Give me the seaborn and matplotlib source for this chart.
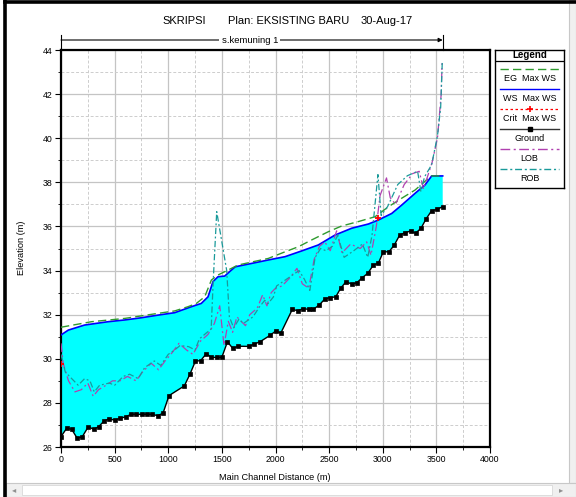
import numpy as np
import matplotlib
matplotlib.use("Agg")
import matplotlib.pyplot as plt
import matplotlib.patches as mpatches
from matplotlib.lines import Line2D
from matplotlib.ticker import MultipleLocator
import seaborn as sns

# ---------------- data ----------------
ground_x = [0, 53, 100, 152, 199, 255, 305, 351, 404, 450, 500, 553, 603, 653, 702, 752, 802, 852,
            901, 951, 1007, 1150, 1203, 1254, 1301, 1355, 1403, 1452, 1499, 1552, 1602, 1655, 1753,
            1804, 1855, 1949, 2005, 2049, 2157, 2207, 2259, 2310, 2353, 2408, 2462, 2508, 2562, 2608,
            2657, 2711, 2757, 2810, 2862, 2912, 2959, 3005, 3058, 3108, 3158, 3210, 3259, 3306, 3357,
            3404, 3455, 3506, 3559]
ground_z = [26.47, 26.85, 26.80, 26.39, 26.47, 26.92, 26.80, 26.92, 27.19, 27.27, 27.22, 27.30,
            27.37, 27.48, 27.48, 27.48, 27.48, 27.48, 27.42, 27.53, 28.33, 28.77, 29.31, 29.90,
            29.91, 30.23, 30.06, 30.06, 30.06, 30.77, 30.47, 30.57, 30.56, 30.67, 30.77, 31.06,
            31.27, 31.16, 32.24, 32.18, 32.27, 32.24, 32.24, 32.44, 32.72, 32.77, 32.81, 33.20,
            33.49, 33.39, 33.44, 33.68, 33.88, 34.25, 34.33, 34.85, 34.85, 35.16, 35.61, 35.72,
            35.79, 35.69, 35.92, 36.34, 36.71, 36.77, 36.90]

ws_x = [0, 68, 220, 438, 594, 749, 905, 1060, 1215, 1308, 1371, 1417, 1464, 1526, 1572, 1624,
        1933, 2089, 2244, 2399, 2555, 2711, 2866, 2959, 3084, 3177, 3301, 3394, 3456, 3559]
ws_z = [31.08, 31.30, 31.53, 31.68, 31.76, 31.86, 31.98, 32.09, 32.36, 32.51, 32.81, 33.50,
        33.72, 33.75, 33.95, 34.17, 34.48, 34.63, 34.89, 35.16, 35.61, 35.92, 36.11, 36.29,
        36.59, 36.97, 37.50, 37.88, 38.29, 38.29]

eg_x = [0, 283, 594, 905, 1060, 1184, 1262, 1340, 1402, 1464, 1557, 1650, 1933, 2089, 2213,
        2338, 2492, 2617, 2772, 2928, 3052, 3177, 3301, 3425, 3456, 3559]
eg_z = [31.43, 31.68, 31.83, 32.06, 32.17, 32.36, 32.51, 32.81, 33.57, 33.80, 34.02, 34.25,
        34.55, 34.85, 35.08, 35.39, 35.76, 36.02, 36.22, 36.44, 36.89, 37.28, 37.65, 38.18,
        38.29, 38.29]

crit_x = [0, 2953]
crit_z = [29.75, 36.37]

lob_x = [0, 20, 70, 130, 190, 250, 300, 350, 420, 480, 550, 620, 700, 760, 840, 910, 970, 1040,
         1100, 1170, 1230, 1300, 1370, 1430, 1480, 1520, 1560, 1600, 1640, 1720, 1760, 1830, 1880,
         1920, 1960, 2000, 2060, 2140, 2200, 2250, 2310, 2360, 2410, 2460, 2510, 2570, 2620, 2700,
         2790, 2850, 2890, 2940, 2975, 3035, 3070, 3120, 3200, 3280, 3340, 3380, 3420, 3460, 3510,
         3545, 3553]
lob_z = [30.7, 29.8, 29.0, 28.5, 28.6, 28.9, 28.3, 28.6, 28.8, 29.0, 29.0, 29.2, 29.0, 29.4,
         29.8, 29.5, 29.9, 30.3, 30.7, 30.4, 30.2, 30.8, 31.1, 31.6, 32.4, 30.6, 31.7, 31.2, 31.9,
         31.5, 32.0, 32.3, 32.9, 32.4, 33.0, 33.2, 33.3, 33.7, 34.1, 33.4, 33.2, 34.5, 35.1, 35.3,
         34.9, 35.8, 34.8, 35.2, 35.0, 35.3, 34.7, 36.0, 37.4, 38.2, 37.3, 37.0, 37.9, 38.4, 38.5,
         37.7, 38.3, 38.9, 40.0, 42.0, 43.4]

rob_x = [0, 40, 100, 160, 220, 270, 310, 360, 450, 500, 580, 640, 720, 780, 870, 930, 1000,
         1060, 1110, 1190, 1250, 1290, 1350, 1400, 1420, 1452, 1545, 1570, 1610, 1660, 1700, 1790,
         1850, 1900, 1930, 1980, 2010, 2070, 2160, 2220, 2270, 2320, 2370, 2420, 2470, 2530, 2580,
         2640, 2730, 2810, 2860, 2900, 2955, 2985, 3045, 3140, 3230, 3325, 3355, 3390, 3456, 3510,
         3540, 3555]
rob_z = [30.2, 29.4, 29.1, 28.8, 29.1, 29.0, 28.5, 28.8, 28.9, 28.8, 29.2, 29.3, 29.1, 29.6,
         29.9, 29.7, 30.2, 30.4, 30.6, 30.55, 30.4, 30.9, 31.15, 31.35, 33.6, 36.67, 34.0, 31.9,
         31.4, 31.8, 31.6, 31.9, 32.35, 32.65, 32.5, 32.8, 33.3, 33.5, 33.8, 34.0, 33.6, 33.1,
         34.6, 35.0, 34.9, 35.1, 35.6, 34.6, 34.9, 35.2, 34.6, 35.6, 38.35, 36.5, 36.9, 37.9,
         38.3, 38.5, 37.6, 38.25, 38.8, 40.1, 41.4, 43.45]

x_ticks = [0, 500, 1000, 1500, 2000, 2500, 3000, 3500, 4000]
y_ticks = [26, 28, 30, 32, 34, 36, 38, 40, 42, 44]

title_parts = ["SKRIPSI", "Plan: EKSISTING BARU", "30-Aug-17"]
reach_name = "s.kemuning 1"
legend_labels = ["EG  Max WS", "WS  Max WS", "Crit  Max WS", "Ground", "LOB", "ROB"]

# ---------------- styles ----------------
C_FILL = "#00FFFF"
C_WS = "#0000FF"
C_EG = "#2E9A2E"
C_CRIT = "#FF0000"
C_LOB = "#B040B0"
C_ROB = "#1A9A9A"
LS_EG = (0, (6, 3))
LS_LOB = (0, (7, 2.5, 1.5, 2.5))
LS_ROB = (0, (5, 2, 1.5, 2))

W, H = 576, 497
plt.rcParams['font.family'] = ['Liberation Sans', 'DejaVu Sans']

fig = plt.figure(figsize=(W / 100, H / 100), dpi=100)
fig.patch.set_facecolor("white")


def fx(px):
    return px / W


def fy(py):
    return 1 - py / H


ax = fig.add_axes([fx(61), fy(447), (490 - 61) / W, (447 - 50) / H])

# water fill between WS and ground
poly_x = np.concatenate([ws_x, ground_x[::-1]])
poly_z = np.concatenate([ws_z, ground_z[::-1]])
ax.fill(poly_x, poly_z, color=C_FILL, lw=0, zorder=2)

sns.lineplot(x=ws_x, y=ws_z, ax=ax, color=C_WS, lw=1.2, estimator=None, sort=False, zorder=4)
sns.lineplot(x=eg_x, y=eg_z, ax=ax, color=C_EG, lw=1.0, linestyle=LS_EG, estimator=None,
             sort=False, zorder=4)
sns.lineplot(x=lob_x, y=lob_z, ax=ax, color=C_LOB, lw=0.9, linestyle=LS_LOB, estimator=None,
             sort=False, zorder=5)
sns.lineplot(x=rob_x, y=rob_z, ax=ax, color=C_ROB, lw=0.9, linestyle=LS_ROB, estimator=None,
             sort=False, zorder=5)
sns.lineplot(x=ground_x, y=ground_z, ax=ax, color="black", lw=1.0, marker="s", markersize=3.3,
             markeredgecolor="black", markerfacecolor="black", markeredgewidth=0.5,
             estimator=None, sort=False, zorder=6)
ax.plot(crit_x, crit_z, linestyle="none", marker="+", color=C_CRIT, markersize=5,
        markeredgewidth=1.3, zorder=7)

ax.set_xlim(0, 4000)
ax.set_ylim(26, 44)
ax.set_xticks(x_ticks)
ax.set_yticks(y_ticks)
ax.set_xticklabels([str(v) for v in x_ticks])
ax.set_yticklabels([str(v) for v in y_ticks])
ax.xaxis.set_minor_locator(MultipleLocator(250))
ax.yaxis.set_minor_locator(MultipleLocator(1))
ax.tick_params(which="major", direction="out", length=4, width=0.8, labelsize=6.3, pad=2,
               colors="black")
ax.tick_params(which="minor", direction="out", length=2, width=0.6)
ax.grid(which="major", color="#c4c4c4", lw=0.9, ls="-", zorder=0)
ax.grid(which="minor", color="#cdcdcd", lw=0.7, ls=(0, (3, 2)), zorder=0)
ax.set_axisbelow(True)
for s in ax.spines.values():
    s.set_linewidth(1.6)
    s.set_color("black")
ax.set_xlabel("")
ax.set_ylabel("")

fig.text(fx(21), fy(248), "Elevation (m)", rotation=90, ha="center", va="center", fontsize=6.6)
fig.text(fx(275), fy(477), "Main Channel Distance (m)", ha="center", va="center", fontsize=6.6)

# title
for txt, cx in zip(title_parts, [184, 289, 387]):
    fig.text(fx(cx), fy(21), txt, ha="center", va="center", fontsize=8)

# reach arrow
trans = ax.get_xaxis_transform()
yarr = 1 + 10 / 397
ax.annotate("", xy=(ws_x[-1], yarr), xytext=(0, yarr), xycoords=trans, textcoords=trans,
            arrowprops=dict(arrowstyle="-|>", lw=0.8, color="black", mutation_scale=6,
                            shrinkA=0, shrinkB=0), annotation_clip=False)
for xe in (0, ws_x[-1]):
    ax.plot([xe, xe], [1.0, 1 + 15 / 397], transform=trans, color="black", lw=0.8,
            clip_on=False)
ax.text(1760, yarr, reach_name, transform=trans, ha="center", va="center",
        fontsize=6.8, bbox=dict(facecolor="white", edgecolor="none", pad=1.5))

# legend box
lax = fig.add_axes([fx(495), fy(188), 69 / W, 138 / H])
lax.set_xlim(0, 69)
lax.set_ylim(138, 0)
lax.set_xticks([])
lax.set_yticks([])
for s in lax.spines.values():
    s.set_linewidth(1.0)
lax.axhline(10.7, color="black", lw=0.9)
lax.text(34.5, 5.5, "Legend", ha="center", va="center", fontsize=7, fontweight="bold")
styles = [
    dict(color=C_EG, ls=LS_EG, lw=1.0),
    dict(color=C_WS, ls="-", lw=1.0),
    dict(color=C_CRIT, ls=(0, (2, 2)), lw=0.9, marker="+", markevery=[1], ms=5, mew=1.2),
    dict(color="#333333", ls="-", lw=1.0, marker="s", markevery=[1], ms=3.3,
         markerfacecolor="black", markeredgecolor="black"),
    dict(color=C_LOB, ls=LS_LOB, lw=1.0),
    dict(color=C_ROB, ls=LS_ROB, lw=1.0),
]
for i, (lab, st) in enumerate(zip(legend_labels, styles)):
    yl = 19.3 + 20 * i
    lax.add_line(Line2D([5, 34.5, 64], [yl, yl, yl], **st))
    lax.text(34.5, yl + 9.6, lab, ha="center", va="center", fontsize=6.5)

# window frame decorations
frame = fig.add_axes([0, 0, 1, 1], zorder=-5)
frame.set_xlim(0, W)
frame.set_ylim(H, 0)
frame.axis("off")
frame.plot([5, 5], [0, H], color="black", lw=2.6)
frame.plot([5, W], [1.5, 1.5], color="black", lw=2.6)
frame.add_patch(mpatches.Rectangle((569, 0), 7, 483, facecolor="#f0f0f0", edgecolor="#c8c8c8",
                                   lw=0.8))
frame.add_patch(mpatches.Rectangle((6, 483), 570, 14, facecolor="#f0f0f0", edgecolor="#c8c8c8",
                                   lw=0.8))
frame.add_patch(mpatches.Rectangle((22, 485), 530, 10, facecolor="white", edgecolor="#d8d8d8",
                                   lw=0.6))
frame.text(14, 490, "\u25C2", ha="center", va="center", fontsize=6, color="#909090",
           family="DejaVu Sans")
frame.text(561, 490, "\u25B8", ha="center", va="center", fontsize=6, color="#909090",
           family="DejaVu Sans")

fig.savefig("out.png", dpi=100)
